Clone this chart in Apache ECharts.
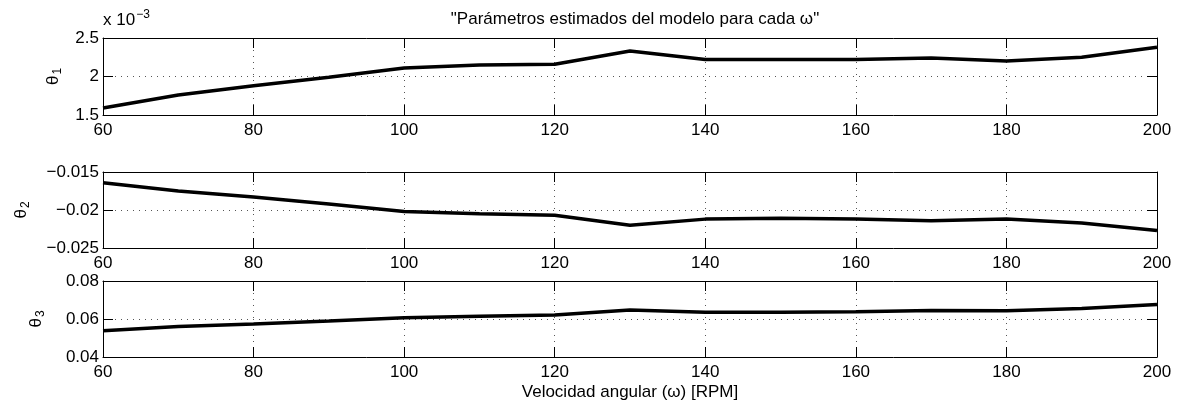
<!DOCTYPE html>
<html><head><meta charset="utf-8">
<script src="https://cdn.jsdelivr.net/npm/echarts@6/dist/echarts.min.js"></script>
<style>html,body{margin:0;padding:0;background:#fff}#c{width:1180px;height:407px}</style>
</head><body><div id="c"></div>
<script>
// Data
const rpm = [60, 70, 80, 90, 100, 110, 120, 130, 140, 150, 160, 170, 180, 190, 200];
const theta1 = [0.00159, 0.00176, 0.00188, 0.00199, 0.00211, 0.00215, 0.00216, 0.00233, 0.00222, 0.00222, 0.00222, 0.00224, 0.00220, 0.00225, 0.00238];
const theta2 = [-0.0164, -0.0175, -0.0183, -0.0192, -0.0202, -0.0205, -0.0207, -0.0220, -0.0212, -0.0211, -0.0212, -0.0214, -0.0212, -0.0217, -0.0227];
const theta3 = [0.0538, 0.0560, 0.0574, 0.0590, 0.0607, 0.0614, 0.0621, 0.0647, 0.0636, 0.0636, 0.0638, 0.0645, 0.0643, 0.0655, 0.0676];
const xTicks = {min: 60, max: 200, interval: 20};
const yRanges = [
  {min: 0.0015, max: 0.0025, interval: 0.0005},
  {min: -0.025, max: -0.015, interval: 0.005},
  {min: 0.04, max: 0.08, interval: 0.02}
];
const yNames = ['1', '2', '3'];
const titleText = '"Parámetros estimados del modelo para cada ω"';
const xName = 'Velocidad angular (ω) [RPM]';

const FONT = 'Liberation Sans, Arial, Helvetica, sans-serif';
const FS = 17;
const grids = [
  {left: 103, right: 23, top: 38, height: 77},
  {left: 103, right: 23, top: 172, height: 76},
  {left: 103, right: 23, top: 281, height: 76}
];
const nameGaps = [39, 71, 56];
const series = [theta1, theta2, theta3];

const dotted = {show: true, lineStyle: {color: '#555', width: 1, type: [1, 5]}};
const axLine = {show: true, onZero: false, lineStyle: {color: '#000', width: 1}};
const tick = {show: true, inside: true, length: 10, lineStyle: {color: '#000', width: 1}};

const xAxis = [], yAxis = [], ser = [];
grids.forEach((g, i) => {
  xAxis.push({
    type: 'value', gridIndex: i, position: 'bottom', min: xTicks.min, max: xTicks.max, interval: xTicks.interval,
    axisLine: axLine, axisTick: tick, splitLine: dotted,
    axisLabel: {color: '#000', fontSize: FS, fontFamily: FONT, margin: 7},
    name: i === 2 ? xName : '', nameLocation: 'middle', nameGap: 27,
    nameTextStyle: {color: '#000', fontSize: FS, fontFamily: FONT}
  });
  xAxis.push({
    type: 'value', gridIndex: i, position: 'top', min: xTicks.min, max: xTicks.max, interval: xTicks.interval,
    axisLine: axLine, axisTick: tick, splitLine: {show: false}, axisLabel: {show: false}
  });
  const r = yRanges[i];
  yAxis.push({
    type: 'value', gridIndex: i, position: 'left', min: r.min, max: r.max, interval: r.interval,
    axisLine: axLine, axisTick: tick, splitLine: dotted,
    axisLabel: {color: '#000', fontSize: FS, fontFamily: FONT, margin: 4,
      formatter: v => {
        if (i === 0) return String(+(v * 1000).toFixed(3));
        return String(+v.toFixed(4)).replace('-', '\u2212');
      }},
    name: '{t|θ}{s|' + yNames[i] + '}', nameLocation: 'middle', nameGap: nameGaps[i], nameRotate: 90,
    nameTextStyle: {color: '#000', fontFamily: FONT,
      rich: {t: {fontSize: FS, fontFamily: FONT, color: '#000'},
             s: {fontSize: 12, fontFamily: FONT, color: '#000', padding: [10, 0, 0, 1]}}}
  });
  yAxis.push({
    type: 'value', gridIndex: i, position: 'right', min: r.min, max: r.max, interval: r.interval,
    axisLine: axLine, axisTick: tick, splitLine: {show: false}, axisLabel: {show: false}
  });
  ser.push({
    type: 'line', xAxisIndex: 2 * i, yAxisIndex: 2 * i, symbol: 'none',
    lineStyle: {color: '#000', width: 3.5}, data: rpm.map((x, k) => [x, series[i][k]])
  });
});

const chart = echarts.init(document.getElementById('c'), null, {renderer: 'canvas'});
chart.setOption({
  animation: false,
  backgroundColor: '#fff',
  title: {text: titleText, left: 630, top: 6, textAlign: 'center',
    textStyle: {color: '#000', fontWeight: 'normal', fontSize: FS, fontFamily: FONT}},
  grid: grids,
  xAxis: xAxis,
  yAxis: yAxis,
  series: ser,
  graphic: [{
    type: 'text', left: 103, top: 9,
    style: {text: 'x 10{s|\u22123}', fill: '#000', fontSize: FS, fontFamily: FONT,
      rich: {s: {fontSize: 12, fontFamily: FONT, fill: '#000', padding: [0, 0, 11, 1]}}}
  }]
});
</script></body></html>
